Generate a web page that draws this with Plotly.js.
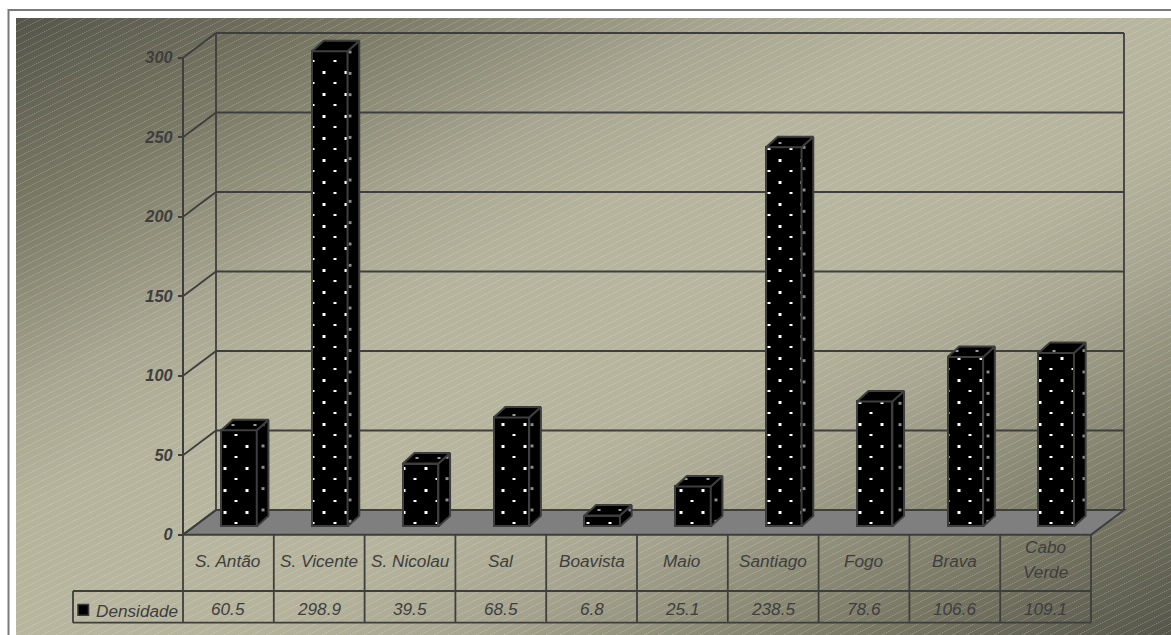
<!DOCTYPE html>
<html lang="pt">
<head>
<meta charset="utf-8">
<title>Densidade</title>
<script src="https://cdn.plot.ly/plotly-3.0.1.min.js"></script>
<style>
  html, body { margin: 0; padding: 0; background: #fff; overflow: hidden; }
  #panel {
    position: absolute; left: 16px; top: 18px; width: 1155px; height: 617px;
    background-image:
      url("data:image/svg+xml,%3Csvg xmlns='http://www.w3.org/2000/svg' width='14' height='7' shape-rendering='crispEdges'%3E%3Cg fill='%23fff'%3E%3Cg fill-opacity='.2'%3E%3Crect x='0' y='6' width='1' height='1'/%3E%3Crect x='2' y='5' width='1' height='1'/%3E%3Crect x='4' y='4' width='1' height='1'/%3E%3Crect x='6' y='3' width='1' height='1'/%3E%3Crect x='8' y='2' width='1' height='1'/%3E%3Crect x='10' y='1' width='1' height='1'/%3E%3Crect x='12' y='0' width='1' height='1'/%3E%3C/g%3E%3Cg fill-opacity='.08'%3E%3Crect x='1' y='6' width='1' height='1'/%3E%3Crect x='3' y='5' width='1' height='1'/%3E%3Crect x='5' y='4' width='1' height='1'/%3E%3Crect x='7' y='3' width='1' height='1'/%3E%3Crect x='9' y='2' width='1' height='1'/%3E%3Crect x='11' y='1' width='1' height='1'/%3E%3Crect x='13' y='0' width='1' height='1'/%3E%3C/g%3E%3C/g%3E%3C/svg%3E"),
      linear-gradient(to bottom right, #55554a 0%, #7b7a66 16%, #a8a690 31%, #b5b39b 40%, #b8b69e 50%, #b5b39b 60%, #a8a690 69%, #7b7a66 86%, #55554a 100%);
  }
  #chart { position: absolute; left: 0; top: 0; width: 1171px; height: 635px; }
  pattern rect { shape-rendering: crispEdges; }
</style>
</head>
<body>
<div id="panel"></div>
<div id="chart"></div>
<script>
// Population density by island
const categories = ["S. Antão", "S. Vicente", "S. Nicolau", "Sal", "Boavista", "Maio", "Santiago", "Fogo", "Brava", "Cabo Verde"];
const categoryLines = [["S. Antão"], ["S. Vicente"], ["S. Nicolau"], ["Sal"], ["Boavista"], ["Maio"], ["Santiago"], ["Fogo"], ["Brava"], ["Cabo", "Verde"]];
const densidade = [60.5, 298.9, 39.5, 68.5, 6.8, 25.1, 238.5, 78.6, 106.6, 109.1];
const valueLabels = ["60.5", "298.9", "39.5", "68.5", "6.8", "25.1", "238.5", "78.6", "106.6", "109.1"];
const yTicks = [0, 50, 100, 150, 200, 250, 300];
const seriesName = "Densidade";

// Where the dotted fill starts on each bar's three faces (page pixels)
const frontDotX = [225, 324, 404, 503, 599, 681, 780, 860, 959, 1040];
const frontDotY = 512;
const sideDotX = [263, 350, 447, 532, 630, 716, 804, 900, 988, 1084];
const sideDotY = [510, 500, 500, 510, 510, 500, 510, 510, 500, 500];
const topDotX = [233, 320, 417, 514, 599, 686, 780, 860, 957, 1054];
const topDotY = [425, 52, 458, 415, 510, 479, 143, 403, 351, 351];
const topDotPeriod = [22, 21, 22, 80, 21, 22, 80, 22, 20, 80];

// Page-pixel geometry of the oblique projection
const W = 1171, H = 635;
const originX = 183, originY = 534.7, cellW = 90.8, unitH = 1.59;
const toX = p => (p - originX) / cellW;
const toY = p => (originY - p) / unitH;

const wallDX = 33 / cellW, wallDY = 24.7 / unitH;     // floor depth
const barW = 35.5 / cellW, barOffset = 56 / cellW;    // front face width and centre within a cell
const barBase = 8.3 / unitH;                          // bars stand part-way back on the floor
const barDX = 11.7 / cellW, barDY = 10.5 / unitH;     // bar depth

const ink = "#3e3e3e";
const n = categories.length;
const fontFamily = "Liberation Sans, Arial, sans-serif";
const font = { family: fontFamily, size: 17.2, color: ink, style: "italic" };

// Walls, floor and table sit behind the traces
const lineShape = (x0, y0, x1, y1, width) => ({
  type: "line", layer: "below", xref: "x", yref: "y", x0, y0, x1, y1,
  line: { color: ink, width: width || 1.8 }
});
const shapes = [];

shapes.push({
  type: "path", layer: "below", xref: "x", yref: "y",
  path: `M0,0 L${n},0 L${n + wallDX},${wallDY} L${wallDX},${wallDY} Z`,
  fillcolor: "#7f7f7f", line: { color: ink, width: 2 }
});
yTicks.forEach(v => {
  if (v > 0) shapes.push(lineShape(wallDX, v + wallDY, n + wallDX, v + wallDY));
  shapes.push(lineShape(0, v, wallDX, v + wallDY));
});
shapes.push(lineShape(0, 300, 0, 0, 2));
shapes.push(lineShape(wallDX, 300 + wallDY, wallDX, wallDY));
shapes.push(lineShape(n + wallDX, 300 + wallDY, n + wallDX, wallDY));

// Data table under the chart
const rowMid = toY(591), rowBottom = toY(622.7), tableLeft = toX(73);
for (let i = 0; i <= n; i++) shapes.push(lineShape(i, 0, i, rowBottom));
shapes.push(lineShape(tableLeft, rowMid, n, rowMid));
shapes.push(lineShape(tableLeft, rowBottom, n, rowBottom));
shapes.push(lineShape(tableLeft, rowMid, tableLeft, rowBottom));

// Legend key in the table
shapes.push({
  type: "rect", xref: "x", yref: "y", layer: "below",
  x0: toX(78), x1: toX(88.5), y0: toY(604.5), y1: toY(615.3),
  fillcolor: "#000", line: { color: "#3a3a3a", width: 1.5 }
});

// Panel frame
shapes.push({
  type: "path", xref: "paper", yref: "paper", layer: "below",
  path: `M${8.5 / W},0 L${8.5 / W},${1 - 10 / H} L1,${1 - 10 / H}`,
  line: { color: "#7a7a7a", width: 2 }
});

const faceTrace = (x, y) => ({
  type: "scatter", mode: "lines", x, y, fill: "toself", fillcolor: "#000",
  fillpattern: { shape: ".", size: 22, solidity: 0.05, fgcolor: "#8c8c8c", bgcolor: "#000" },
  line: { color: ink, width: 2 }, hoverinfo: "skip", showlegend: false
});

const traces = [{
  type: "bar", name: seriesName,
  x: categories.map((_, i) => i + barOffset), y: densidade,
  base: densidade.map(() => barBase), width: barW,
  customdata: categories,
  hovertemplate: "%{customdata}: %{y}<extra></extra>",
  marker: {
    color: "#000",
    line: { color: ink, width: 2 },
    // an array keeps a separate pattern for every bar
    pattern: { shape: ".", size: densidade.map(() => 22), solidity: 0.05, fgcolor: "#fff", bgcolor: "#000" }
  }
}];

// Side and top faces of each bar, derived from its value
const sideTraces = [], topTraces = [];
densidade.forEach((v, i) => {
  const l = i + barOffset - barW / 2, r = i + barOffset + barW / 2;
  const b = barBase, t = barBase + v;
  sideTraces.push(faceTrace([r, r + barDX, r + barDX, r, r], [b, b + barDY, t + barDY, t, b]));
  topTraces.push(faceTrace([l, l + barDX, r + barDX, r, l], [t, t + barDY, t + barDY, t, t]));
});
traces.push(...sideTraces, ...topTraces);

// Table text
const annotations = [];
const cellText = (x, py, text, anchor) => annotations.push({
  xref: "x", yref: "y", x, y: toY(py), text, showarrow: false, font,
  xanchor: anchor || "center", yanchor: "middle", borderpad: 0
});
categoryLines.forEach((lines, i) => {
  if (lines.length === 1) cellText(i + 0.5, 561, lines[0]);
  else { cellText(i + 0.5, 547, lines[0]); cellText(i + 0.5, 571.7, lines[1]); }
  cellText(i + 0.5, 609.3, valueLabels[i]);
});
cellText(toX(94.5), 610.8, seriesName, "left");

const layout = {
  width: W, height: H,
  margin: { l: 0, r: 0, t: 0, b: 0, pad: 0 },
  paper_bgcolor: "rgba(0,0,0,0)", plot_bgcolor: "rgba(0,0,0,0)",
  showlegend: false, bargap: 0,
  xaxis: { range: [toX(0), toX(W)], visible: false, fixedrange: true },
  yaxis: {
    range: [toY(H), toY(0)], anchor: "free", position: originX / W, side: "left",
    tickmode: "array", tickvals: yTicks, ticktext: yTicks.map(String),
    ticks: "outside", ticklen: 5, tickwidth: 1.5, tickcolor: ink, ticklabelstandoff: 2,
    tickfont: { family: fontFamily, size: 16.4, color: ink, style: "italic", weight: 700 },
    showgrid: false, zeroline: false, showline: false, fixedrange: true
  },
  shapes, annotations
};

// Swap the library's round pattern dots for square ones at each bar's own offset
const SVG_NS = "http://www.w3.org/2000/svg";
function setDots(node, tileW, tileH, dx, dy, dots, color) {
  const m = /#([^"')]+)/.exec(node.style.fill || "");
  const pattern = m && document.getElementById(m[1]);
  if (!pattern) return;
  pattern.setAttribute("width", tileW);
  pattern.setAttribute("height", tileH);
  pattern.setAttribute("patternTransform", `translate(${dx},${dy})`);
  while (pattern.firstChild) pattern.removeChild(pattern.firstChild);
  const addRect = (x, y, w, h, fill) => {
    const rect = document.createElementNS(SVG_NS, "rect");
    rect.setAttribute("x", x); rect.setAttribute("y", y);
    rect.setAttribute("width", w); rect.setAttribute("height", h);
    rect.setAttribute("fill", fill);
    pattern.appendChild(rect);
  };
  addRect(0, 0, tileW, tileH, "#000");
  dots.forEach(d => addRect(d[0], d[1], d[2], d[3], color));
}

function styleFaces(gd) {
  gd.querySelectorAll(".barlayer .point path").forEach((path, i) => {
    setDots(path, 22, 22, frontDotX[i] - 1.5, frontDotY - 1,
      [[0, 0, 3, 3], [11, 11, 3, 2]], "#fff");
  });
  const fills = gd.querySelectorAll(".scatterlayer path.js-fill");
  fills.forEach((path, k) => {
    if (k < n) setDots(path, 60, 21.33, sideDotX[k] - 1.5, sideDotY[k] - 1.5, [[0, 0, 3, 3]], "#8c8c8c");
    else {
      const i = k - n;
      setDots(path, topDotPeriod[i], 60, topDotX[i] - 1.5, topDotY[i] - 1, [[0, 0, 3, 2]], "#9a9a9a");
    }
  });
}

const chart = document.getElementById("chart");
Plotly.newPlot(chart, traces, layout, { displayModeBar: false }).then(() => {
  styleFaces(chart);
  chart.on("plotly_afterplot", () => styleFaces(chart));
});
</script>
</body>
</html>
